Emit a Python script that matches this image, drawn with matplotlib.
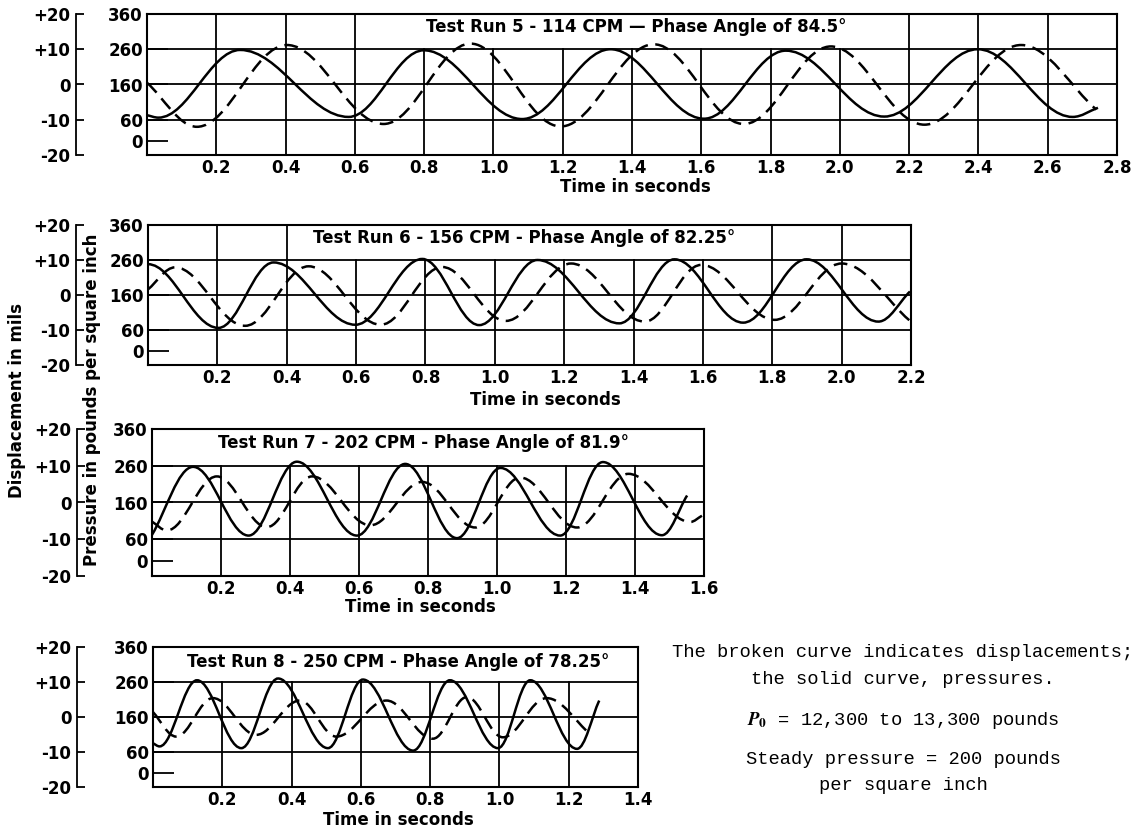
"""
Pressure and displacement records for test runs 5 to 8.
"""

# Imports
import matplotlib
matplotlib.use('Agg')
import matplotlib.pyplot as plt
from matplotlib.path import Path
from matplotlib.patches import PathPatch


# Figure size in pixels
W, H = 1138, 830

# Peaks and troughs (time in seconds).
# Pressure in psi, displacement in mils. First/last entries are the curve ends.
run5_title = 'Test Run 5 - 114 CPM \u2014 Phase Angle of 84.5\u00b0'
run5_tmax = 2.8
run5_press_t = [0.000, 0.033, 0.269, 0.582, 0.799, 1.083, 1.338, 1.608, 1.844, 2.128, 2.398, 2.672, 2.745]
run5_press = [73, 66, 258, 68, 257, 62, 260, 63, 256, 69, 260, 68, 94]
run5_disp_t = [0.000, 0.144, 0.404, 0.683, 0.934, 1.194, 1.463, 1.723, 1.974, 2.244, 2.523, 2.740]
run5_disp = [0.5, -12.0, 11.2, -11.2, 11.6, -11.9, 11.4, -11.2, 10.8, -11.4, 11.2, -7.1]

run6_title = 'Test Run 6 - 156 CPM - Phase Angle of 82.25\u00b0'
run6_tmax = 2.2
run6_press_t = [0.000, 0.203, 0.362, 0.598, 0.791, 0.955, 1.123, 1.359, 1.518, 1.716, 1.899, 2.106, 2.197]
run6_press = [248, 66, 253, 75, 263, 74, 260, 79, 262, 81, 262, 84, 170]
run6_disp_t = [0.000, 0.078, 0.280, 0.463, 0.671, 0.848, 1.032, 1.220, 1.432, 1.595, 1.807, 2.000, 2.195]
run6_disp = [1.6, 7.9, -8.8, 8.2, -8.5, 8.0, -7.4, 9.0, -7.6, 8.6, -7.1, 9.0, -7.2]

run7_title = 'Test Run 7 - 202 CPM - Phase Angle of 81.9\u00b0'
run7_tmax = 1.6
run7_press_t = [0.000, 0.119, 0.280, 0.420, 0.594, 0.734, 0.884, 1.010, 1.183, 1.307, 1.478, 1.551]
run7_press = [72, 257, 70, 271, 70, 265, 63, 254, 70, 270, 71, 179]
run7_disp_t = [0.000, 0.043, 0.188, 0.333, 0.464, 0.633, 0.783, 0.937, 1.067, 1.232, 1.381, 1.560, 1.594]
run7_disp = [-5.2, -7.6, 7.1, -6.7, 7.1, -6.2, 5.6, -6.8, 6.8, -6.8, 7.8, -5.3, -3.6]

run8_title = 'Test Run 8 - 250 CPM - Phase Angle of 78.25\u00b0'
run8_tmax = 1.4
run8_press_t = [0.000, 0.019, 0.127, 0.255, 0.361, 0.505, 0.606, 0.751, 0.857, 0.996, 1.089, 1.224, 1.288]
run8_press = [85, 76, 265, 71, 270, 71, 267, 64, 265, 71, 265, 69, 207]
run8_disp_t = [0.000, 0.067, 0.173, 0.298, 0.424, 0.529, 0.674, 0.808, 0.906, 1.010, 1.136, 1.261]
run8_disp = [1.4, -5.6, 5.4, -5.1, 4.7, -5.6, 4.7, -6.2, 5.7, -5.8, 5.4, -4.8]

# Scales
press_ticks = [0, 60, 160, 260, 360]
disp_ticks = [-20, -10, 0, 10, 20]
disp_labels = ['-20', '-10', '0', '+10', '+20']

notes = [
    'The broken curve indicates displacements;',
    'the solid curve, pressures.',
    '$P_0$ = 12,300 to 13,300 pounds',
    'Steady pressure = 200 pounds',
    'per square inch',
]

runs = [
    (run5_title, run5_tmax, run5_press_t, run5_press, run5_disp_t, run5_disp),
    (run6_title, run6_tmax, run6_press_t, run6_press, run6_disp_t, run6_disp),
    (run7_title, run7_tmax, run7_press_t, run7_press, run7_disp_t, run7_disp),
    (run8_title, run8_tmax, run8_press_t, run8_press, run8_disp_t, run8_disp),
]

# Layout (pixels): plot box, displacement scale, title, time label
boxes = [(147, 1117, 14, 155), (148, 911, 225, 365), (152, 704, 429, 576), (153, 638, 647, 787)]
scale_x = [76, 76, 77, 77]
title_xy = [(1.413, 322), (1.084, 322), (0.786, 322), (0.709, 318)]
title_band = [(0.7, 2.1), (0.5, 1.7), (0.0, 9.0), (0.0, 9.0)]
xlabel_xy = [(635, 187), (545, 400), (420, 607), (398, 820)]
flat_start = [False, True, False, False]
note_y = [652, 679, 720, 760, 785]

plt.rcParams['font.family'] = 'DejaVu Sans'
plt.rcParams['font.weight'] = 'bold'
plt.rcParams['axes.labelweight'] = 'bold'
plt.rcParams['font.size'] = 12
plt.rcParams['mathtext.fontset'] = 'stix'


def smooth_path(t, v, flat=False):
    """
    Bezier path through successive peaks and troughs (flat at each extreme).
    """
    verts = [(t[0], v[0])]
    codes = [Path.MOVETO]
    last = len(t) - 1
    for i in range(last):
        t0, v0, t1, v1 = t[i], v[i], t[i + 1], v[i + 1]
        dt = t1 - t0
        if i == 0 and not flat:
            c1 = (t0 + dt / 3, v0 + (v1 - v0) / 3)
        else:
            c1 = (t0 + 0.364 * dt, v0)
        if i + 1 == last:
            c2 = (t1 - dt / 3, v1 - (v1 - v0) / 3)
        else:
            c2 = (t1 - 0.364 * dt, v1)
        verts += [c1, c2, (t1, v1)]
        codes += [Path.CURVE4] * 3
    return Path(verts, codes)


fig = plt.figure(figsize=(W / 100, H / 100), dpi=100)

for i, (title, tmax, pt, pv, dt, dv) in enumerate(runs):
    l, r, top, bot = boxes[i]
    ax = fig.add_axes([l / W, 1 - bot / H, (r - l) / W, (bot - top) / H])
    ax.set_xlim(0, tmax)
    ax.set_ylim(-40, 360)
    for s in ax.spines.values():
        s.set_linewidth(1.5)

    # Grid: vertical lines stop under the title band where the title sits
    for y in (60, 160, 260):
        ax.axhline(y, color='black', lw=1.3, zorder=1)
    ticks = [round(0.2 * k, 1) for k in range(1, int(round(tmax / 0.2)) + 1)]
    lo, hi = title_band[i]
    for x in ticks[:-1]:
        ax.axvline(x, ymax=0.75 if lo < x < hi else 1.0, color='black', lw=1.3, zorder=1)

    ax.set_xticks(ticks, [f'{x:.1f}' for x in ticks])
    ax.tick_params(axis='x', length=0, pad=3)
    ax.set_yticks(press_ticks, [str(p) for p in press_ticks])
    ax.tick_params(axis='y', direction='in', length=15, width=1.3, pad=3)

    # Pressure (solid)
    ax.add_patch(PathPatch(smooth_path(pt, pv, flat_start[i]), fill=False,
                           edgecolor='black', lw=1.8, zorder=3))

    tx, ty = title_xy[i]
    ax.text(tx, ty, title, ha='center', va='center')

    xl, yl = xlabel_xy[i]
    ax.set_xlabel('Time in seconds', fontweight='bold')
    ax.xaxis.set_label_coords((xl - l) / (r - l), -(yl - bot) / (bot - top))
    ax.xaxis.label.set_va('center')

    # Displacement scale and curve (broken)
    axd = ax.twinx()
    axd.set_ylim(-20, 20)
    for side in ('top', 'bottom', 'right'):
        axd.spines[side].set_visible(False)
    axd.spines['left'].set_visible(True)
    axd.spines['left'].set_linewidth(1.3)
    axd.spines['left'].set_position(('outward', (l - scale_x[i]) * 72 / 100))
    axd.yaxis.tick_left()
    axd.set_yticks(disp_ticks, disp_labels)
    axd.tick_params(axis='y', direction='in', length=6, width=1.3, pad=4)
    axd.add_patch(PathPatch(smooth_path(dt, dv), fill=False, edgecolor='black',
                            lw=1.8, linestyle=(0, (5.5, 3))))

fig.text(17 / W, 1 - 400 / H, 'Displacement in mils', rotation=90,
         ha='center', va='center')
fig.text(92 / W, 1 - 400 / H, 'Pressure in pounds per square inch', rotation=90,
         ha='center', va='center')

for txt, y in zip(notes, note_y):
    fig.text(903 / W, 1 - y / H, txt, ha='center', va='center',
             family='Liberation Mono', fontweight='normal', fontsize=13.5)

fig.savefig('out.png', dpi=100)
